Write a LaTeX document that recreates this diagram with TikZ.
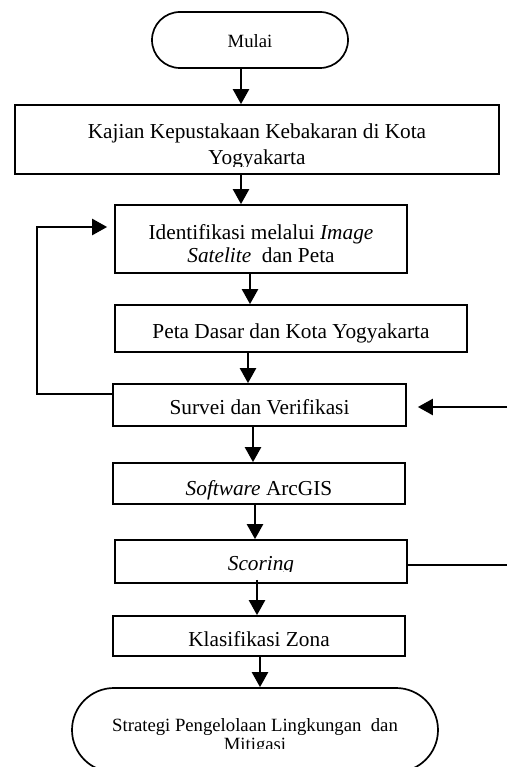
\documentclass[tikz,border=0pt]{standalone}
\usepackage{fontspec}
\setmainfont{Liberation Serif}
\usetikzlibrary{arrows.meta}
\begin{document}
\begin{tikzpicture}[x=1pt,y=-1pt,
  box/.style={draw, line width=1.7pt, inner sep=0pt},
  txt/.style={inner sep=0pt, align=center, font=\fontsize{21.3}{26}\selectfont},
  txtb/.style={txt, anchor=base},
  stxt/.style={inner sep=0pt, align=center, font=\fontsize{18.7}{19}\selectfont},
  arr/.style={line width=2.3pt, -{Triangle[length=15pt,width=16pt]}},
  lnk/.style={line width=2.1pt}]
\useasboundingbox (0,0) rectangle (507,767);
\clip (0,0) rectangle (507,767);

% boxes
\node[box, rounded corners=28pt, minimum width=196pt, minimum height=56pt] (mulai) at (250,40) {};
\node[box, minimum width=484pt, minimum height=69pt] (kajian) at (257,139.5) {};
\node[box, minimum width=292pt, minimum height=68pt] (ident) at (261,239) {};
\node[box, minimum width=352pt, minimum height=47pt] (peta) at (291,328.5) {};
\node[box, minimum width=293pt, minimum height=42pt] (survei) at (259.5,405) {};
\node[box, minimum width=292pt, minimum height=41pt] (software) at (259,483.5) {};
\node[box, minimum width=292pt, minimum height=43pt] (scoring) at (261,561.5) {};
\node[box, minimum width=292pt, minimum height=40pt] (klas) at (259,636) {};
\node[box, rounded corners=42pt, minimum width=366pt, minimum height=84pt] (strategi) at (255,730) {};

% texts
\node[stxt, anchor=base] (mulaitxt) at (250,48) {Mulai};
\begin{scope}
  \clip (15,105) rectangle (499,166.5);
  \node[txt] (kajiantxt) at (257,146.5) {Kajian Kepustakaan Kebakaran di Kota\\Yogyakarta};
\end{scope}
\node[txt, font=\fontsize{21.3}{22.5}\selectfont] (identtxt) at (261,243.5)
  {Identifikasi melalui \textit{Image}\\\textit{Satelite}\ \ dan Peta};
\node[txtb] (petatxt) at (291,338) {Peta Dasar dan Kota Yogyakarta};
\node[txtb] (surveitxt) at (259.5,414) {Survei dan Verifikasi};
\node[txtb] (softwaretxt) at (259,495) {\textit{Software} ArcGIS};
\begin{scope}
  \clip (115,540) rectangle (407,571);
  \node[txtb] (scoringtxt) at (261,570) {\textit{Scoring}};
\end{scope}
\node[txtb] (klastxt) at (259,646) {Klasifikasi Zona};
\begin{scope}
  \clip (72,688) rectangle (438,748);
  \node[stxt] (strategitxt) at (255,736.4) {Strategi Pengelolaan Lingkungan\ \ dan\\Mitigasi};
\end{scope}

% helper coordinates
\coordinate (a1) at (241,0);
\coordinate (a2) at (241,0);
\coordinate (a3) at (250,0);
\coordinate (a4) at (248,0);
\coordinate (a5) at (253,0);
\coordinate (a6) at (255,0);
\coordinate (a7) at (257,0);
\coordinate (a8) at (260,0);
\coordinate (fb) at (37,227);
\coordinate (rin) at (507,407);
\coordinate (rout) at (507,565);

% connectors
\draw[arr] (a1 |- mulai.south) -- (a1 |- kajian.north);
\draw[arr] (a2 |- kajian.south) -- (a2 |- ident.north);
\draw[arr] (a3 |- ident.south) -- (a3 |- peta.north);
\draw[arr] (a4 |- peta.south) -- (a4 |- survei.north);
\draw[arr] (a5 |- survei.south) -- (a5 |- software.north);
\draw[arr] (a6 |- software.south) -- (a6 |- scoring.north);
\draw[arr] ([yshift=4pt]a7 |- scoring.south) -- (a7 |- klas.north);
\draw[arr] (a8 |- klas.south) -- (a8 |- strategi.north);
\draw[arr, shorten >=7pt] ([yshift=11pt]survei.west) -| (fb) |- ([yshift=12pt]ident.west);
\draw[arr, shorten >=11pt] (rin) -- (rin -| survei.east);
\draw[lnk] (scoring.east |- rout) -- (rout);
\end{tikzpicture}
\end{document}
